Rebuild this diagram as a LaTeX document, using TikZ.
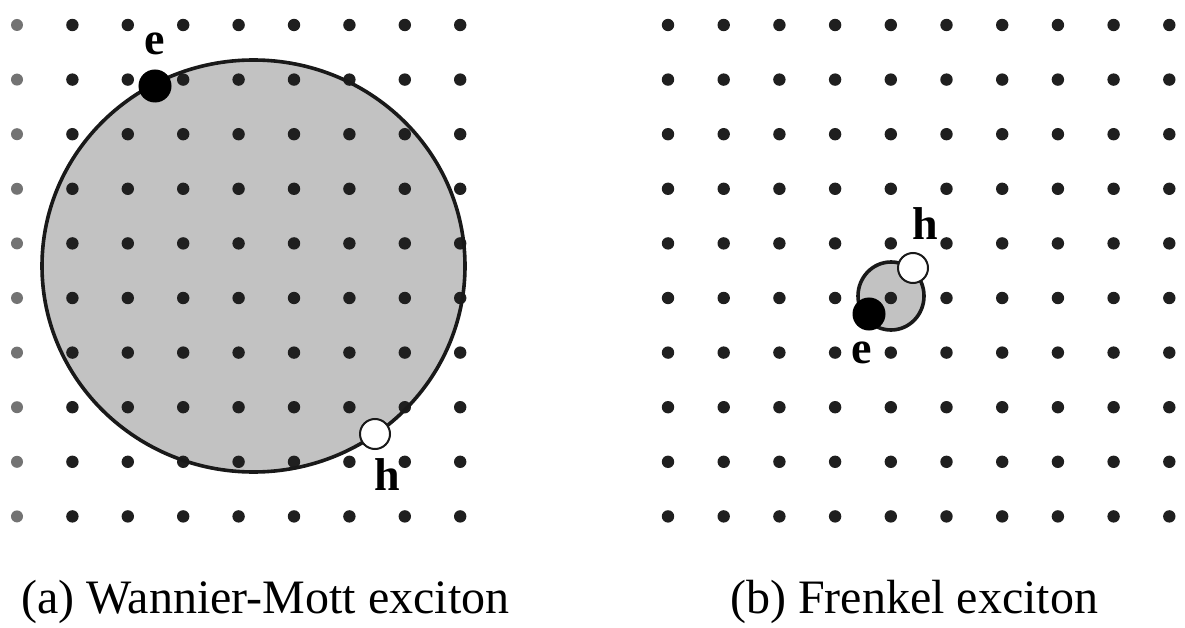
\documentclass[tikz,border=0pt]{standalone}
\usepackage{fontspec}
\setmainfont{Liberation Serif}
\usetikzlibrary{positioning}

\begin{document}
\begin{tikzpicture}[
    x=1pt, y=-1pt,
    site/.style={fill=black!88},
    faint/.style={fill=black!55},
    electron/.style={circle, fill=black, draw=black, line width=1pt, inner sep=0pt, minimum size=32pt},
    hole/.style={circle, fill=white, draw=black!90, line width=2pt, inner sep=0pt, minimum size=30pt},
    tag/.style={inner sep=0pt, font=\fontsize{46}{46}\selectfont\bfseries},
    caption/.style={inner sep=0pt, anchor=base west, font=\fontsize{48}{48}\selectfont}
]

\useasboundingbox (0,0) rectangle (1185,628);
\fill[white] (0,0) rectangle (1185,628);

% exciton clouds
\fill[black!24] (253.5,266) ellipse [x radius=211.5pt, y radius=206pt];
\fill[black!24] (891,296) ellipse [x radius=33pt, y radius=34pt];

% lattice (a)
\foreach \j in {0,...,9}
  \fill[faint] (17,25+54.6*\j) circle (6pt);
\foreach \i in {1,...,8}
  \foreach \j in {0,...,9}
    \fill[site] (17+55.4*\i,25+54.6*\j) circle (6.2pt);

% lattice (b)
\foreach \i in {0,...,9}
  \foreach \j in {0,...,9}
    \fill[site] (668+55.7*\i,25+54.6*\j) circle (6.2pt);

\draw[black!90, line width=3.6pt] (253.5,266) ellipse [x radius=211.5pt, y radius=206pt];
\draw[black!90, line width=3.6pt] (891,296) ellipse [x radius=33pt, y radius=34pt];

% Wannier-Mott pair
\node[electron] (eA) at (155,86) {};
\node[hole] (hA) at (375,434) {};
\node[tag, above=14pt of eA] (eAlabel) {e};
\node[tag, below=8pt of hA, xshift=12pt] (hAlabel) {h};

% Frenkel pair
\node[electron] (eB) at (869,314) {};
\node[hole] (hB) at (913,268) {};
\node[tag, below=11pt of eB, xshift=-7pt] (eBlabel) {e};
\node[tag, above=12pt of hB, xshift=12pt] (hBlabel) {h};

\node[caption] (capA) at (21,613) {(a) Wannier-Mott exciton};
\node[caption] (capB) at (730,613) {(b) Frenkel exciton};

\end{tikzpicture}
\end{document}
